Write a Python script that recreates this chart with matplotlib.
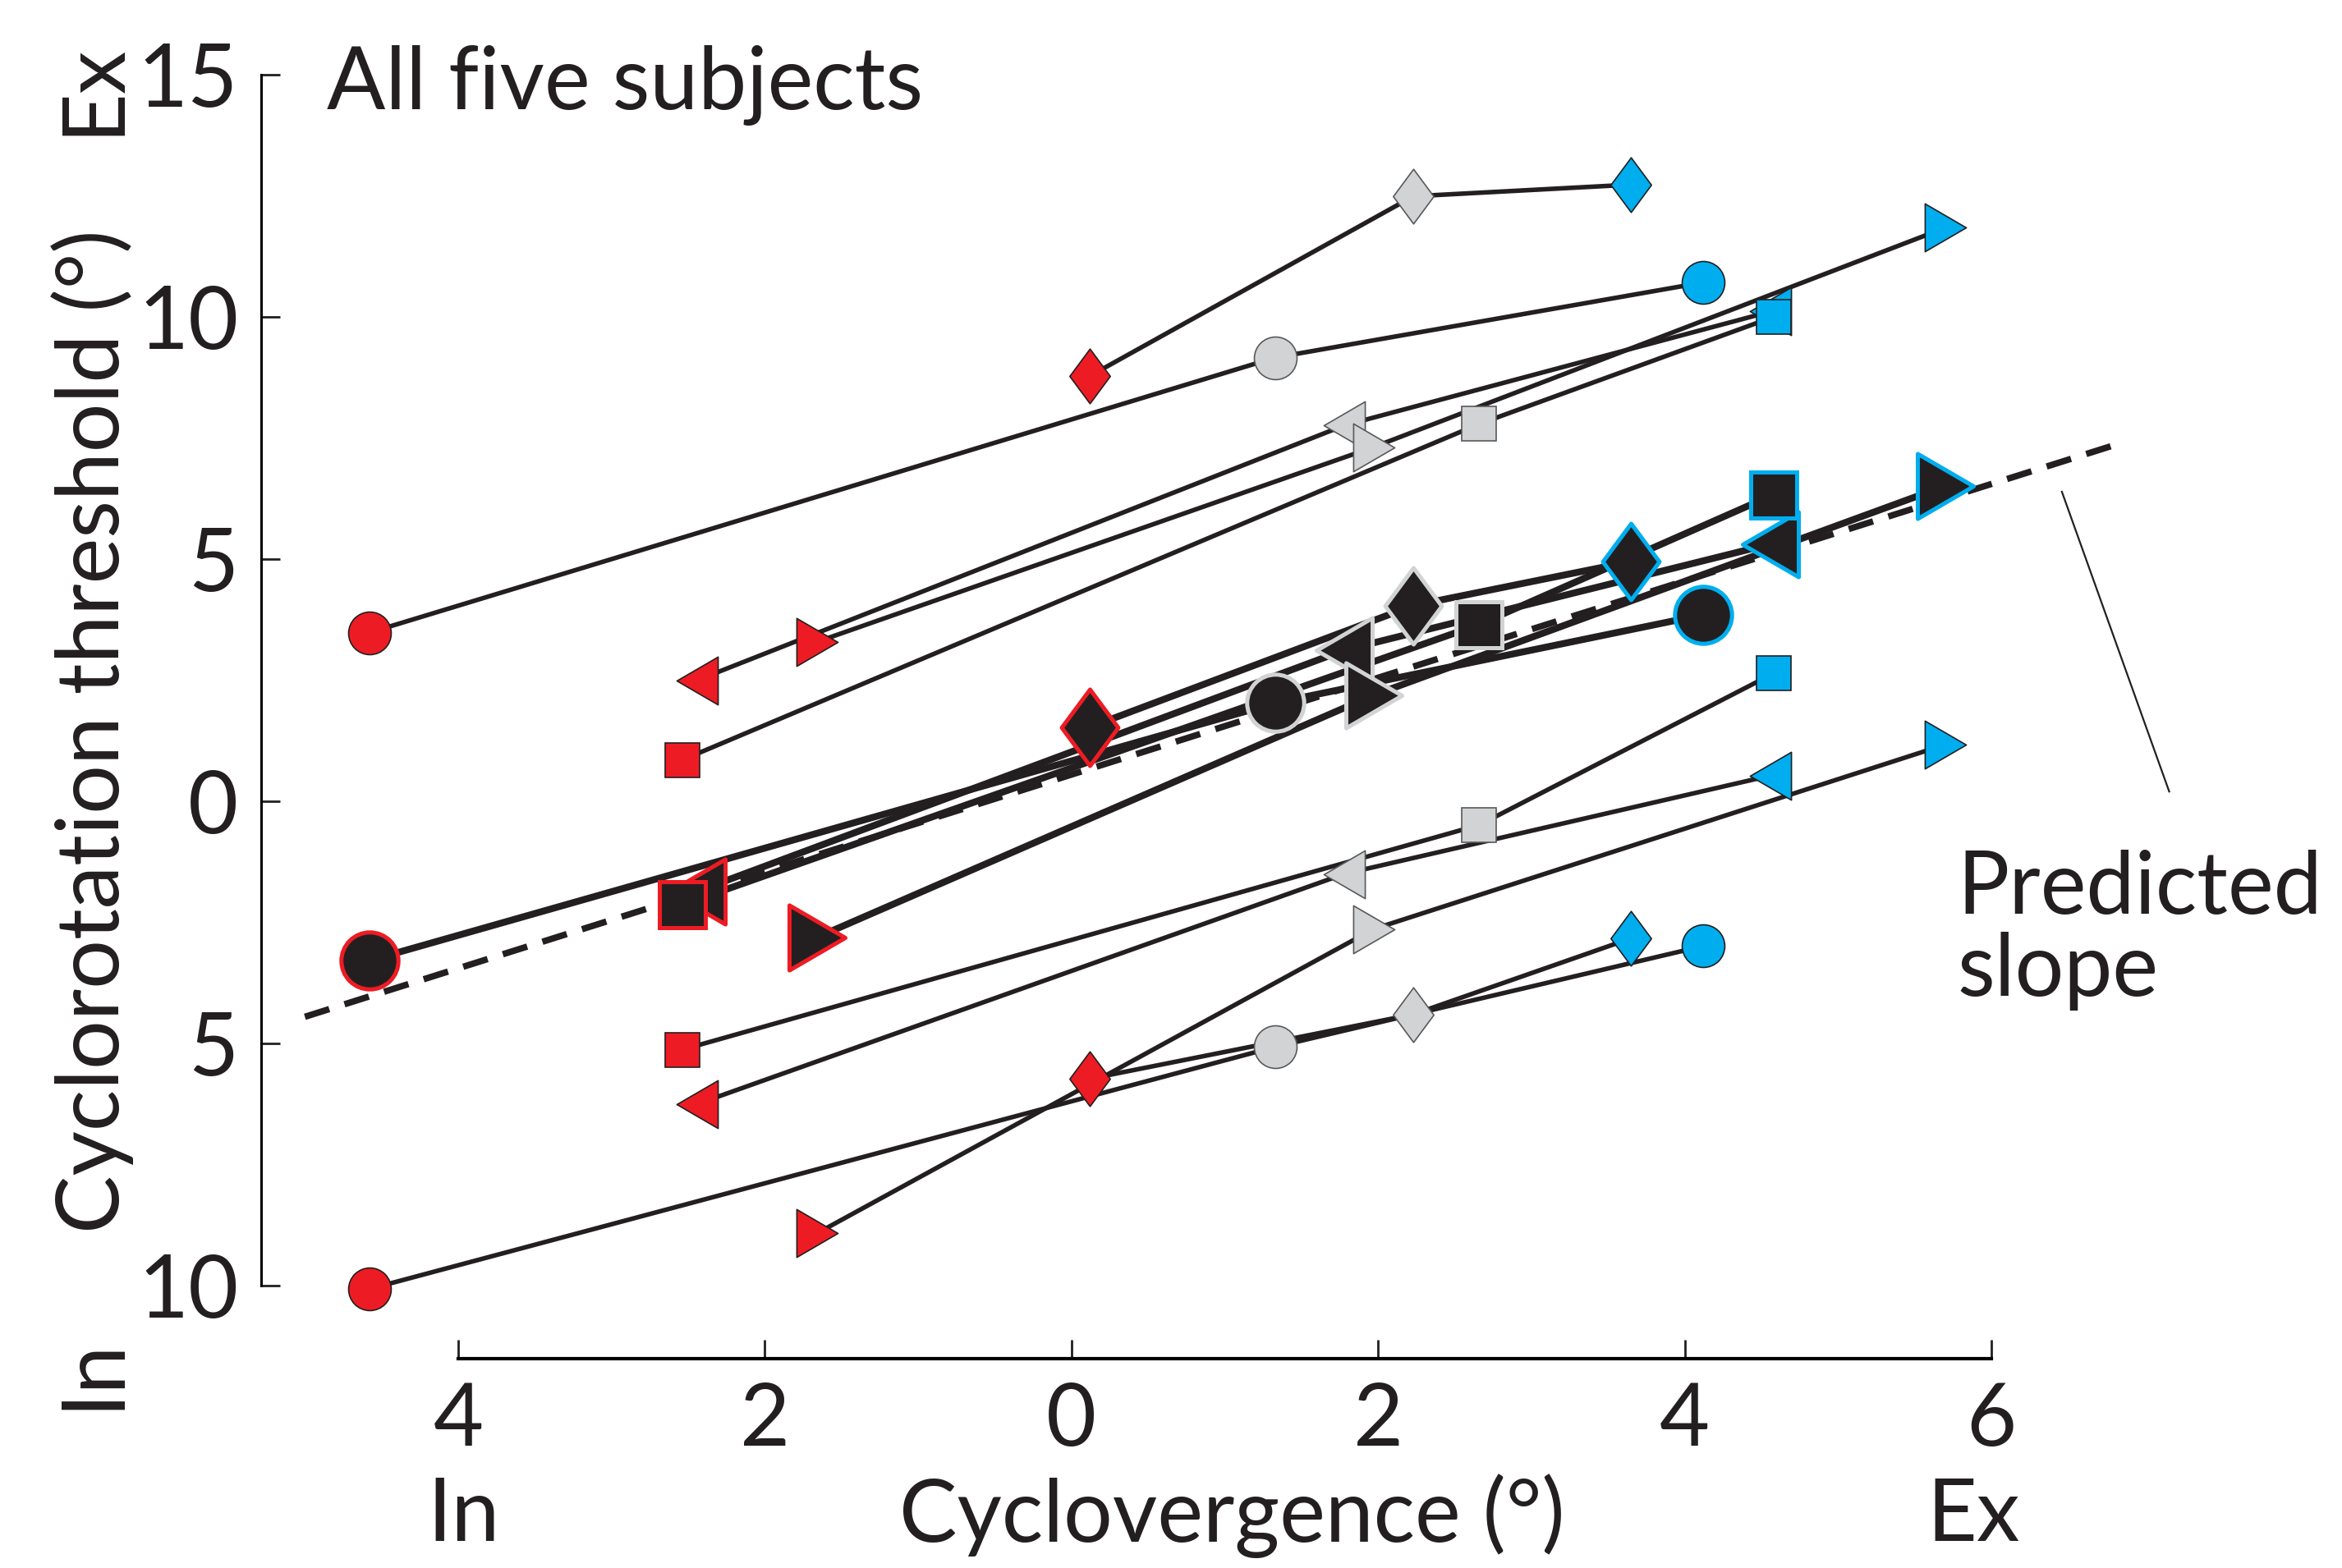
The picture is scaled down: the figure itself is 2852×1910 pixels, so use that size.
import matplotlib.pyplot as plt
from matplotlib.path import Path
from matplotlib.markers import MarkerStyle

plt.rcParams['font.family'] = ['Lato', 'DejaVu Sans']

# x positions (cyclovergence, deg) of the three conditions: red, gray, blue
circle_x = [-4.58, 1.33, 4.12]
diamond_x = [0.12, 2.23, 3.65]
square_x = [-2.54, 2.66, 4.58]
ltri_x = [-2.44, 1.78, 4.56]
rtri_x = [-1.66, 1.97, 5.70]

# excyclo thresholds
circle_ex = [3.48, 9.16, 10.71]
diamond_ex = [8.78, 12.49, 12.73]
square_ex = [0.85, 7.79, 10.00]
ltri_ex = [2.50, 7.76, 10.11]
rtri_ex = [3.29, 7.31, 11.84]

# middle (black) points
circle_mid = [-3.29, 2.03, 3.85]
diamond_mid = [1.53, 4.04, 4.95]
square_mid = [-2.14, 3.65, 6.33]
ltri_mid = [-1.86, 3.12, 5.31]
rtri_mid = [-2.81, 2.19, 6.51]

# incyclo thresholds
circle_in = [-10.07, -5.07, -2.99]
diamond_in = [-5.73, -4.40, -2.83]
square_in = [-5.13, -0.49, 2.64]
ltri_in = [-6.25, -1.50, 0.53]
rtri_in = [-8.92, -2.64, 1.17]

# predicted slope line
pred_x = [-5.0, 6.8]
pred_y = [-4.45, 7.35]

xticks = [-4, -2, 0, 2, 4, 6]
xticklabels = ['4', '2', '0', '2', '4', '6']
yticks = [-10, -5, 0, 5, 10, 15]
yticklabels = ['10', '5', '0', '5', '10', '15']

red = '#ED1C24'
gray = '#D1D3D4'
blue = '#00AEEF'
black = '#231F20'
cond_colors = [red, gray, blue]


def poly_marker(verts):
    p = Path(verts + [verts[0]], closed=True)
    return MarkerStyle(p, joinstyle='miter')


diamond_m = poly_marker([(0, 1), (0.74, 0), (0, -1), (-0.74, 0)])
ltri_m = poly_marker([(-0.86, 0), (0.86, 1), (0.86, -1)])
rtri_m = poly_marker([(0.86, 0), (-0.86, 1), (-0.86, -1)])

# (x, ex, mid, in, marker, small size, big size)
series = [
    (circle_x, circle_ex, circle_mid, circle_in, 'o', 18.7, 25.0),
    (diamond_x, diamond_ex, diamond_mid, diamond_in, diamond_m, 24.0, 33.5),
    (ltri_x, ltri_ex, ltri_mid, ltri_in, ltri_m, 21.0, 28.5),
    (rtri_x, rtri_ex, rtri_mid, rtri_in, rtri_m, 21.0, 28.5),
    (square_x, square_ex, square_mid, square_in, 's', 15.0, 20.0),
]

W, H = 2852, 1910
fig = plt.figure(figsize=(W / 200, H / 200), dpi=200)
ax = fig.add_axes([318 / W, 1 - 1655 / H, (2800 - 318) / W, (1655 - 40) / H])
ax.set_xlim(-5.2855, 8.0086)
ax.set_ylim(-11.508, 15.864)

for k, (xs, yex, ymid, yin, m, ms_s, ms_b) in enumerate(series):
    for ys in (yex, yin):
        ax.plot(xs, ys, color=black, lw=2.0, zorder=2)
        for i in range(3):
            edge = '#58595B' if i == 1 else black
            ax.plot(xs[i], ys[i], marker=m, ms=ms_s, mfc=cond_colors[i],
                    mec=edge, mew=0.6, ls='none', zorder=3 + k * 0.01)
    ax.plot(xs, ymid, color=black, lw=3.0, zorder=4)
    for i in range(3):
        ax.plot(xs[i], ymid[i], marker=m, ms=ms_b, mfc=black,
                mec=cond_colors[i], mew=1.8, ls='none', zorder=5 + k * 0.01)

ax.plot(pred_x, pred_y, color=black, lw=2.8, ls=(0, (4, 2.5)), zorder=3.5)
ax.plot([6.46, 7.16], [6.39, 0.20], color=black, lw=0.8)

for s in ['top', 'right']:
    ax.spines[s].set_visible(False)
ax.spines['left'].set_bounds(-10, 15)
ax.spines['bottom'].set_bounds(-4, 6)
ax.spines['left'].set_linewidth(1.1)
ax.spines['bottom'].set_linewidth(1.5)
ax.set_xticks(xticks, xticklabels)
ax.set_yticks(yticks, yticklabels)
ax.tick_params(direction='in', length=8.3, width=1.0, labelsize=38, colors=black)
ax.tick_params(axis='x', pad=10)
ax.tick_params(axis='y', pad=10)


def ftext(x, y, s, **kw):
    fig.text(x / W, 1 - y / H, s, color=black, fontsize=38, **kw)


ftext(398, 133, 'All five subjects', ha='left', va='baseline')
ftext(113, 891, 'Cyclorotation threshold (°)', rotation=90, ha='center', va='center')
ftext(113, 108, 'Ex', rotation=90, ha='center', va='center')
ftext(113, 1673, 'In', rotation=90, ha='center', va='center')
ftext(1500, 1847, 'Cyclovergence (°)', ha='center', va='center')
ftext(564, 1847, 'In', ha='center', va='center')
ftext(2403, 1847, 'Ex', ha='center', va='center')
ftext(2383, 1113, 'Predicted', ha='left', va='baseline')
ftext(2383, 1213, 'slope', ha='left', va='baseline')

fig.savefig('out.png', dpi=200)
